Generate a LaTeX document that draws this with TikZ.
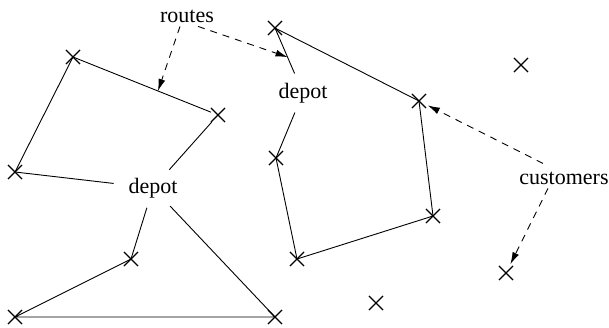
\documentclass[tikz,border=0pt]{standalone}
\usepackage{fontspec}
\setmainfont{Liberation Serif}
\usetikzlibrary{shapes.misc,shapes.geometric,arrows.meta}
\begin{document}
\begin{tikzpicture}[x=1pt,y=-1pt,
  cust/.style={cross out,draw,minimum size=13pt,inner sep=0pt,line width=1.1pt},
  depotlbl/.style={ellipse,inner sep=4pt,font=\fontsize{22}{26}\selectfont},
  lbl/.style={inner sep=4pt,font=\fontsize{22}{26}\selectfont},
  route/.style={line width=0.9pt},
  pointer/.style={line width=0.9pt,dash pattern=on 7pt off 6pt,shorten >=2pt,-{Latex[length=12pt,width=7pt]}}]
\useasboundingbox (0,0) rectangle (609,327);

% customers (crosses)
\node[cust] (A1) at (73,57) {};
\node[cust] (A2) at (218,115) {};
\node[cust] (A3) at (15,172) {};
\node[cust] (A4) at (131,259) {};
\node[cust] (A5) at (15,317) {};
\node[cust] (A6) at (275,317) {};
\node[cust] (B1) at (275,28) {};
\node[cust] (B2) at (419,101) {};
\node[cust] (B3) at (276,158) {};
\node[cust] (B4) at (433,216) {};
\node[cust] (B5) at (297,259) {};
\node[cust] (C1) at (521,65) {};
\node[cust] (C2) at (506,273) {};
\node[cust] (C3) at (376,303) {};

% depots
\node[depotlbl] (D1) at (153,188) {depot};
\node[depotlbl] (D2) at (303,93) {depot};

% labels
\node[lbl,anchor=base] (R) at (187,22) {routes};
\node[lbl,anchor=base] (C) at (564,184) {customers};

% routes
\draw[route] (D1) -- (A2) -- (A1.center) -- (A3.center) -- (D1);
\draw[route] (D1) -- (A4.center) -- (A5.center) -- (A6.center) -- (D1);
\draw[route] (D2) -- (B1.center) -- (B2.center) -- (B4.center) -- (B5.center) -- (B3.center) -- (D2);

% points on routes
\path (A1.center) -- (A2.center) coordinate[pos=0.586] (r1);
\path (D2) -- (B1.center) coordinate[pos=0.36] (r2);

% pointers
\draw[pointer,shorten >=0pt] ([xshift=-7pt]R.south) -- (r1);
\draw[pointer,shorten >=0pt] ([xshift=11pt]R.south) -- (r2);
\draw[pointer] ([xshift=-21pt,yshift=4pt]C.north) -- (B2);
\draw[pointer] ([xshift=-16pt]C.south) -- (C2);
\end{tikzpicture}
\end{document}
